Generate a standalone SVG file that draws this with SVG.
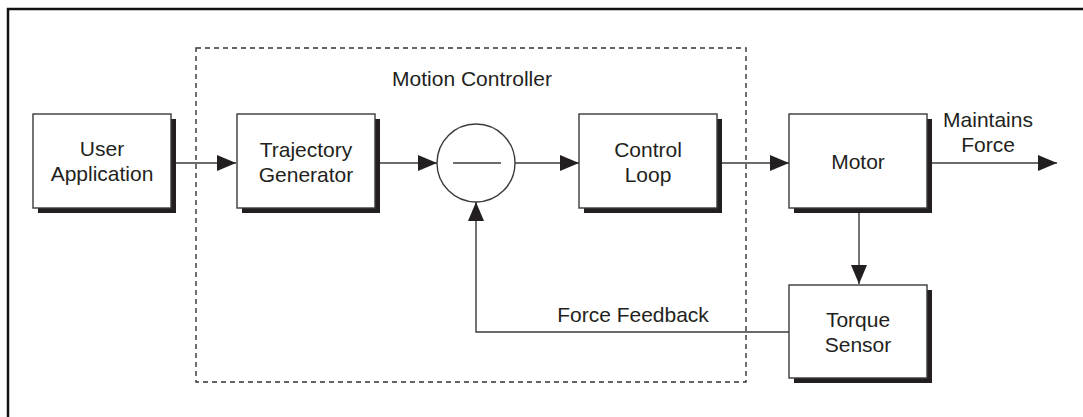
<svg xmlns="http://www.w3.org/2000/svg" width="1083" height="417" viewBox="0 0 1083 417">
<defs>
<style>
.box{fill:#fff;stroke:#3a3a3a;stroke-width:1.4}
.sh{fill:#231f20}
.ln{fill:none;stroke:#3a3a3a;stroke-width:1.4}
.t{font-family:"Liberation Sans",Arial,sans-serif;font-size:21px;fill:#231f20;text-anchor:middle}
</style>
<marker id="ah" markerUnits="userSpaceOnUse" markerWidth="20" markerHeight="16" viewBox="0 0 20 16" refX="19" refY="8" orient="auto">
<path d="M0,0 L19,8 L0,16 Z" fill="#231f20"/>
</marker>
</defs>
<rect width="1083" height="417" fill="#fff"/>
<rect x="8" y="9" width="1090" height="420" fill="none" stroke="#111" stroke-width="2.5"/>
<g id="motion-controller">
<rect x="196" y="48" width="550" height="334" fill="none" stroke="#333" stroke-width="1.4" stroke-dasharray="5,4"/>
<text class="t" x="472" y="86">Motion Controller</text>
</g>
<g id="connectors">
<line class="ln" x1="171" y1="163" x2="236" y2="163" marker-end="url(#ah)"/>
<line class="ln" x1="375" y1="163" x2="437" y2="163" marker-end="url(#ah)"/>
<line class="ln" x1="515" y1="163" x2="579" y2="163" marker-end="url(#ah)"/>
<line class="ln" x1="717" y1="163" x2="789" y2="163" marker-end="url(#ah)"/>
<line class="ln" x1="927" y1="163" x2="1057" y2="163" marker-end="url(#ah)"/>
<line class="ln" x1="859" y1="208" x2="859" y2="284" marker-end="url(#ah)"/>
<polyline class="ln" points="789,332 476,332 476,202" marker-end="url(#ah)"/>
<text class="t" x="633" y="322">Force Feedback</text>
<text class="t" x="988" y="127">Maintains</text>
<text class="t" x="988" y="152">Force</text>
</g>
<g id="user-application">
<rect class="sh" x="38" y="119" width="138" height="94"/>
<rect class="box" x="33" y="114" width="138" height="94"/>
<text class="t" x="102" y="156">User</text>
<text class="t" x="102" y="181">Application</text>
</g>
<g id="trajectory-generator">
<rect class="sh" x="242" y="119" width="138" height="94"/>
<rect class="box" x="237" y="114" width="138" height="94"/>
<text class="t" x="306" y="157">Trajectory</text>
<text class="t" x="306" y="182">Generator</text>
</g>
<g id="summing-junction">
<circle cx="476" cy="163" r="39" fill="#fff" stroke="#3a3a3a" stroke-width="1.4"/>
<line class="ln" x1="453" y1="163" x2="501" y2="163"/>
</g>
<g id="control-loop">
<rect class="sh" x="584" y="119" width="138" height="94"/>
<rect class="box" x="579" y="114" width="138" height="94"/>
<text class="t" x="648" y="157">Control</text>
<text class="t" x="648" y="182">Loop</text>
</g>
<g id="motor">
<rect class="sh" x="794" y="119" width="138" height="94"/>
<rect class="box" x="789" y="114" width="138" height="94"/>
<text class="t" x="858" y="169">Motor</text>
</g>
<g id="torque-sensor">
<rect class="sh" x="794" y="290" width="138" height="93"/>
<rect class="box" x="789" y="285" width="138" height="93"/>
<text class="t" x="858" y="327">Torque</text>
<text class="t" x="858" y="352">Sensor</text>
</g>
</svg>
